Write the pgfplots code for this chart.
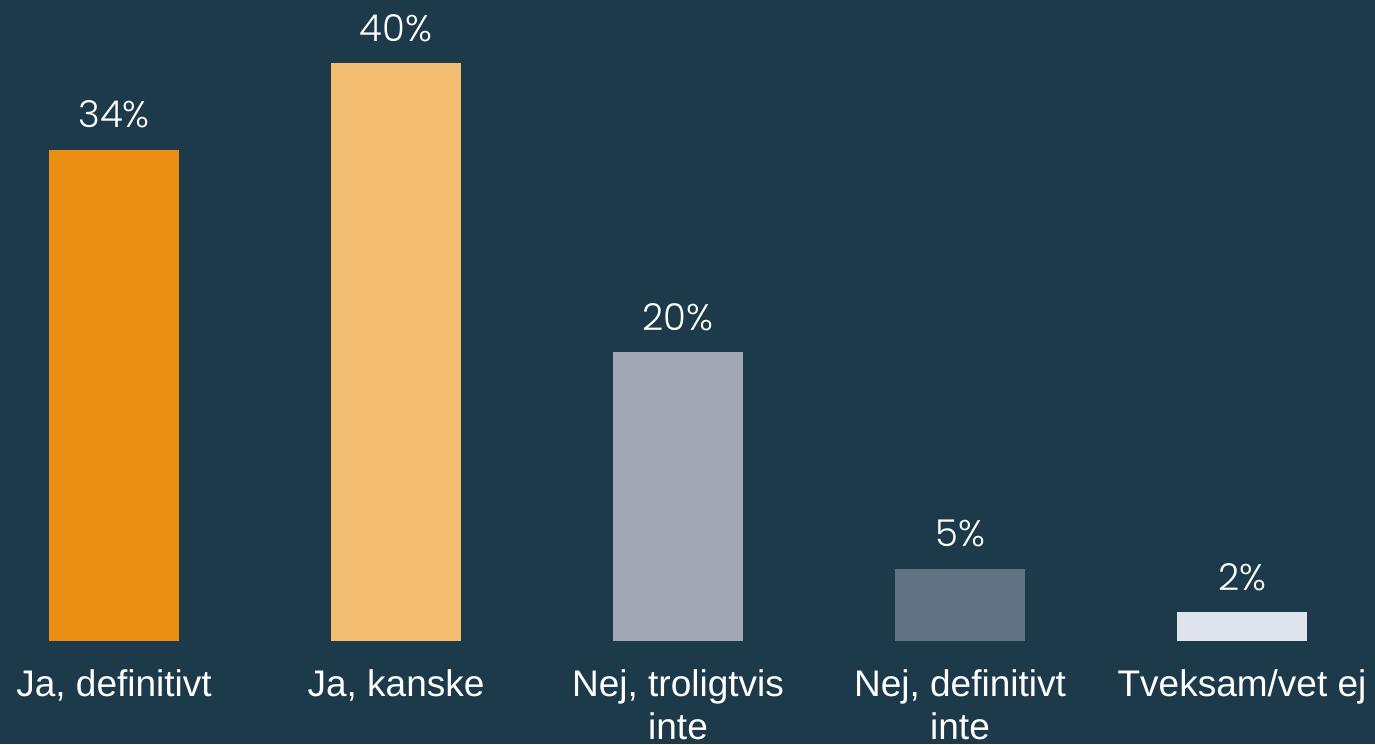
\documentclass[border=0pt]{standalone}
\usepackage{pgfplots}
\pgfplotsset{compat=1.18}
\usepackage{fontspec}
\setmainfont{Liberation Sans}
\newfontfamily\valfont{Poppins Light}
\definecolor{bg}{HTML}{1D3A4B}
\definecolor{c1}{HTML}{EA8F12}
\definecolor{c2}{HTML}{F4BE72}
\definecolor{c3}{HTML}{A1A8B3}
\definecolor{c4}{HTML}{627484}
\definecolor{c5}{HTML}{DFE4EC}
\begin{document}
\begin{tikzpicture}
\path[use as bounding box, fill=bg] (0,-51.5pt) rectangle (687.5pt,320.5pt);
\begin{axis}[
  at={(0,0)}, anchor=south west,
  scale only axis, width=687.5pt, height=320.5pt,
  xmin=-0.4043, xmax=4.4716, ymin=0, ymax=44.36,
  axis line style={draw=none}, tick style={draw=none},
  ytick=\empty,
  ybar, bar width=65pt, bar shift=0pt,
  xtick={0,1,2,3,4},
  xticklabels={{Ja, definitivt},{Ja, kanske},{Nej, troligtvis\\inte},{Nej, definitivt\\inte},{Tveksam/vet ej}},
  xticklabel style={anchor=north, inner sep=0pt, yshift=-10pt, align=center, text=white,
    font={\fontsize{18.5}{21.5}\selectfont}},
  /pgf/number format/assume math mode=true,
  nodes near coords={\pgfmathprintnumber{\pgfplotspointmeta}\%},
  every node near coord/.append style={anchor=base, inner sep=0pt, yshift=11pt, text=white,
    font={\valfont\fontsize{18.5}{20}\selectfont}},
  clip=false,
]
\addplot[fill=c1, draw=none] coordinates {(0,34)};
\addplot[fill=c2, draw=none] coordinates {(1,40)};
\addplot[fill=c3, draw=none] coordinates {(2,20)};
\addplot[fill=c4, draw=none] coordinates {(3,5)};
\addplot[fill=c5, draw=none] coordinates {(4,2)};
\end{axis}
\end{tikzpicture}
\end{document}
